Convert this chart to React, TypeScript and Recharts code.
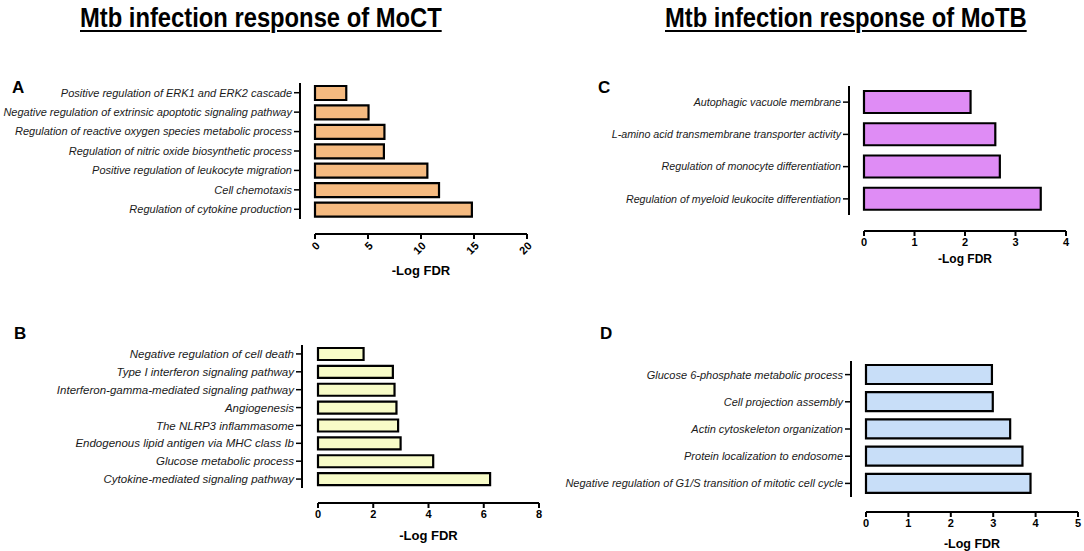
import { BarChart, Bar, XAxis, YAxis } from "recharts";

const termsA = [
  "Positive regulation of ERK1 and ERK2 cascade",
  "Negative regulation of extrinsic apoptotic signaling pathway",
  "Regulation of reactive oxygen species metabolic process",
  "Regulation of nitric oxide biosynthetic process",
  "Positive regulation of leukocyte migration",
  "Cell chemotaxis",
  "Regulation of cytokine production",
];
const valuesA = [2.95, 5.05, 6.55, 6.5, 10.6, 11.7, 14.8];
const ticksA = [0, 5, 10, 15, 20];

const termsB = [
  "Negative regulation of cell death",
  "Type I interferon signaling pathway",
  "Interferon-gamma-mediated signaling pathway",
  "Angiogenesis",
  "The NLRP3 inflammasome",
  "Endogenous lipid antigen via MHC class Ib",
  "Glucose metabolic process",
  "Cytokine-mediated signaling pathway",
];
const valuesB = [1.65, 2.71, 2.77, 2.84, 2.9, 2.99, 4.17, 6.23];
const ticksB = [0, 2, 4, 6, 8];

const termsC = [
  "Autophagic vacuole membrane",
  "L-amino acid transmembrane transporter activity",
  "Regulation of monocyte differentiation",
  "Regulation of myeloid leukocite differentiation",
];
const valuesC = [2.11, 2.6, 2.69, 3.5];
const ticksC = [0, 1, 2, 3, 4];

const termsD = [
  "Glucose 6-phosphate metabolic process",
  "Cell projection assembly",
  "Actin cytoskeleton organization",
  "Protein localization to endosome",
  "Negative regulation of G1/S transition of mitotic cell cycle",
];
const valuesD = [2.97, 2.99, 3.4, 3.69, 3.88];
const ticksD = [0, 1, 2, 3, 4, 5];

const FONT = '"Liberation Sans", Arial, sans-serif';

interface PanelProps {
  terms: string[];
  values: number[];
  ticks: number[];
  color: string;
  left: number;
  top: number;
  width: number;
  height: number;
  margin: { top: number; right: number; bottom: number; left: number };
  labelWidth: number;
  gapX: number;
  gapY: number;
  xAxisHeight: number;
  barSize: number;
  labelSize: number;
  titleSize: number;
  rotate?: boolean;
}

// plain text tick so long GO terms stay on one line
function TermTick(props: any) {
  const { x, y, payload, size } = props;
  return (
    <text x={x} y={y} dy="0.355em" textAnchor="end" fontSize={size} fontStyle="italic" fill="#1a1a1a">
      {payload.value}
    </text>
  );
}

function Panel(p: PanelProps) {
  const data = p.terms.map((term, i) => ({ term, value: p.values[i] }));
  const max = p.ticks[p.ticks.length - 1];
  const tickStyle = p.rotate
    ? { fontSize: 11, fontWeight: "bold", fill: "#000", angle: -45, textAnchor: "end" }
    : { fontSize: 11, fontWeight: "bold", fill: "#000" };

  return (
    <div style={{ position: "absolute", left: p.left, top: p.top }}>
      <BarChart width={p.width} height={p.height} data={data} layout="vertical" margin={p.margin}>
        <XAxis xAxisId="gap" type="number" domain={[0, max]} height={p.gapX} tick={false} axisLine={false} tickLine={false} />
        <XAxis
          xAxisId="main"
          type="number"
          domain={[0, max]}
          ticks={p.ticks}
          interval={0}
          height={p.xAxisHeight}
          axisLine={{ stroke: "#000", strokeWidth: 2 }}
          tickLine={{ stroke: "#000", strokeWidth: 2 }}
          tickSize={5}
          tick={tickStyle}
          label={{
            value: "-Log FDR",
            position: "insideBottom",
            offset: 0,
            style: { fontSize: p.titleSize, fontWeight: "bold", fill: "#000" },
          }}
        />
        <YAxis yAxisId="gap" type="category" dataKey="term" width={p.gapY} tick={false} axisLine={false} tickLine={false} />
        <YAxis
          yAxisId="main"
          type="category"
          dataKey="term"
          width={p.labelWidth}
          interval={0}
          axisLine={{ stroke: "#000", strokeWidth: 2 }}
          tickLine={{ stroke: "#000", strokeWidth: 1.5 }}
          tickSize={6}
          tickMargin={2}
          tick={(t: any) => <TermTick {...t} size={p.labelSize} />}
        />
        <Bar
          xAxisId="main"
          yAxisId="main"
          dataKey="value"
          fill={p.color}
          stroke="#000"
          strokeWidth={2.2}
          barSize={p.barSize}
          isAnimationActive={false}
        />
      </BarChart>
    </div>
  );
}

const letterStyle = { position: "absolute" as const, fontSize: 17, fontWeight: "bold" as const, lineHeight: "17px" };

// narrow bold heading, squeezed horizontally to the reference width
function Heading({ left, text }: { left: number; text: string }) {
  return (
    <div
      style={{
        position: "absolute",
        left,
        top: 3,
        fontSize: 27,
        lineHeight: "30px",
        fontWeight: "bold",
        textDecoration: "underline",
        textDecorationThickness: 2,
        textUnderlineOffset: 3,
        whiteSpace: "nowrap",
        transform: "scaleX(0.88)",
        transformOrigin: "left top",
      }}
    >
      {text}
    </div>
  );
}

export default function App() {
  return (
    <div
      style={{
        position: "absolute",
        left: 0,
        top: 0,
        width: 1084,
        height: 551,
        background: "#fff",
        fontFamily: FONT,
        color: "#000",
      }}
    >
      <Heading left={80} text="Mtb infection response of MoCT" />
      <Heading left={665} text="Mtb infection response of MoTB" />

      <div style={{ ...letterStyle, left: 12, top: 79 }}>A</div>
      <div style={{ ...letterStyle, left: 598, top: 79 }}>C</div>
      <div style={{ ...letterStyle, left: 14, top: 325 }}>B</div>
      <div style={{ ...letterStyle, left: 600, top: 325 }}>D</div>

      <Panel
        terms={termsA}
        values={valuesA}
        ticks={ticksA}
        color="#F5BA80"
        left={0}
        top={60}
        width={545}
        height={220}
        margin={{ top: 23, right: 18, bottom: 5, left: 0 }}
        labelWidth={300}
        gapX={15}
        gapY={15}
        xAxisHeight={41}
        barSize={14}
        labelSize={11}
        titleSize={13}
        rotate
      />
      <Panel
        terms={termsC}
        values={valuesC}
        ticks={ticksC}
        color="#DF8CF5"
        left={540}
        top={60}
        width={544}
        height={215}
        margin={{ top: 26, right: 18, bottom: 12, left: 0 }}
        labelWidth={309}
        gapX={16}
        gapY={15}
        xAxisHeight={32}
        barSize={22}
        labelSize={10.7}
        titleSize={12}
      />
      <Panel
        terms={termsB}
        values={valuesB}
        ticks={ticksB}
        color="#F8FCC8"
        left={0}
        top={300}
        width={545}
        height={251}
        margin={{ top: 45, right: 6, bottom: 11, left: 0 }}
        labelWidth={302}
        gapX={15}
        gapY={16}
        xAxisHeight={37}
        barSize={12}
        labelSize={11.5}
        titleSize={13}
      />
      <Panel
        terms={termsD}
        values={valuesD}
        ticks={ticksD}
        color="#C8DEF8"
        left={540}
        top={300}
        width={544}
        height={251}
        margin={{ top: 61, right: 6, bottom: 3, left: 0 }}
        labelWidth={311}
        gapX={15}
        gapY={15}
        xAxisHeight={36}
        barSize={19}
        labelSize={11}
        titleSize={12.5}
      />
    </div>
  );
}
